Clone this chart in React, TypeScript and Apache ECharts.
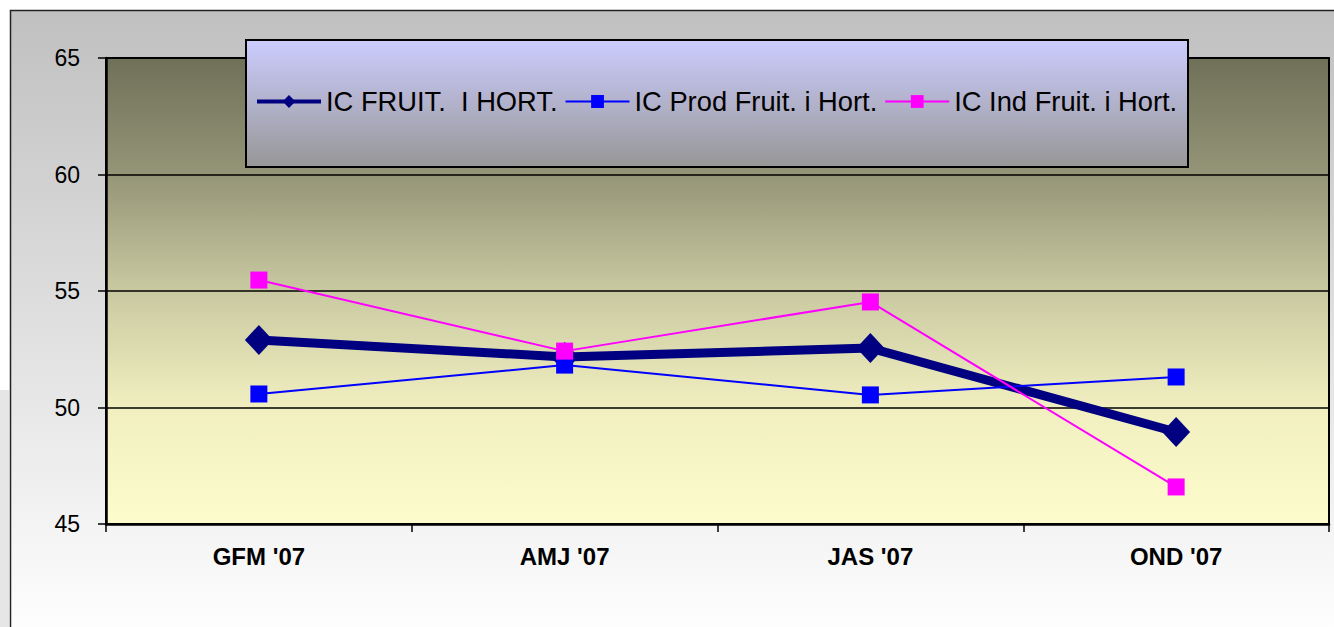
import React, { useEffect, useRef } from "react";
import * as echarts from "echarts";

const categories = ["GFM '07", "AMJ '07", "JAS '07", "OND '07"];
const seriesNames = ["IC FRUIT.  I HORT.", "IC Prod Fruit. i Hort.", "IC Ind Fruit. i Hort."];
const fruitHort = [52.9, 52.17, 52.55, 48.95];
const prodFruitHort = [50.58, 51.82, 50.54, 51.31];
const indFruitHort = [55.47, 52.42, 54.53, 46.59];
const yMin = 45;
const yMax = 65;
const yInterval = 5;

const FONT = "'Liberation Sans', Arial, sans-serif";

export default function App() {
  const ref = useRef<HTMLDivElement>(null);
  useEffect(() => {
    if (!ref.current) return;
    const chart = echarts.init(ref.current, null, { renderer: "svg" });
    const option = {
      animation: false,
      textStyle: { fontFamily: FONT },
      graphic: [
        {
          type: "rect",
          z: -20,
          shape: { x: 0, y: 390, width: 9, height: 240 },
          style: { fill: "#e6e6e6" },
          silent: true,
        },
        {
          type: "rect",
          z: -10,
          shape: { x: 10.5, y: 10.5, width: 1330, height: 630 },
          style: {
            fill: new echarts.graphic.LinearGradient(0, 0, 0, 1, [
              { offset: 0, color: "#c0c0c0" },
              { offset: 1, color: "#ffffff" },
            ]),
            stroke: "#222222",
            lineWidth: 1.5,
          },
          silent: true,
        },
        {
          type: "rect",
          z: 5,
          shape: { x: 246, y: 40, width: 942, height: 127 },
          style: {
            fill: new echarts.graphic.LinearGradient(0, 0, 0, 1, [
              { offset: 0, color: "#ccccff" },
              { offset: 1, color: "#979797" },
            ]),
            stroke: "#000000",
            lineWidth: 2,
          },
          silent: true,
        },
      ],
      legend: {
        z: 10,
        left: 255,
        top: 88,
        padding: 0,
        itemWidth: 64,
        itemHeight: 16,
        itemGap: 7,
        textStyle: { fontSize: 27.3, color: "#000", fontFamily: FONT },
        data: [
          { name: seriesNames[0], lineStyle: { width: 4 } },
          { name: seriesNames[1], lineStyle: { width: 2 } },
          { name: seriesNames[2], lineStyle: { width: 2 } },
        ],
      },
      grid: {
        left: 106,
        top: 58,
        right: 5,
        bottom: 103,
        show: true,
        backgroundColor: new echarts.graphic.LinearGradient(0, 0, 0, 1, [
          { offset: 0, color: "#6f7058" },
          { offset: 0.25, color: "#959578" },
          { offset: 0.5, color: "#c9c9a1" },
          { offset: 0.75, color: "#f1efc0" },
          { offset: 1, color: "#fdfccc" },
        ]),
        borderColor: "#000",
        borderWidth: 2,
      },
      xAxis: {
        type: "category",
        data: categories,
        boundaryGap: true,
        axisLine: { show: true, lineStyle: { color: "#000", width: 2.5 } },
        axisTick: { show: true, length: 8, lineStyle: { color: "#000", width: 1.5 } },
        axisLabel: { color: "#000", fontSize: 24, fontWeight: "bold", margin: 20, fontFamily: FONT },
        splitLine: { show: false },
      },
      yAxis: {
        type: "value",
        min: yMin,
        max: yMax,
        interval: yInterval,
        axisLine: { show: true, lineStyle: { color: "#000", width: 2.5 } },
        axisTick: { show: true, length: 8, lineStyle: { color: "#000", width: 1.5 } },
        axisLabel: { color: "#000", fontSize: 23, margin: 26, fontFamily: FONT },
        splitLine: { show: true, lineStyle: { color: "#000", width: 1.5 } },
      },
      series: [
        {
          name: seriesNames[0],
          type: "line",
          data: fruitHort,
          color: "#000080",
          lineStyle: { width: 9, color: "#000080" },
          itemStyle: { color: "#000080" },
          symbol: "diamond",
          symbolSize: [28, 30],
          z: 2,
        },
        {
          name: seriesNames[1],
          type: "line",
          data: prodFruitHort,
          color: "#0000ff",
          lineStyle: { width: 2, color: "#0000ff" },
          itemStyle: { color: "#0000ff" },
          symbol: "rect",
          symbolSize: 17,
          z: 3,
        },
        {
          name: seriesNames[2],
          type: "line",
          data: indFruitHort,
          color: "#ff00ff",
          lineStyle: { width: 2, color: "#ff00ff" },
          itemStyle: { color: "#ff00ff" },
          symbol: "rect",
          symbolSize: 17,
          z: 4,
        },
      ],
    };
    chart.setOption(option as any);
    return () => chart.dispose();
  }, []);
  return (
    <div
      ref={ref}
      style={{ position: "absolute", left: 0, top: 0, width: 1334, height: 627, background: "#fff" }}
    />
  );
}
